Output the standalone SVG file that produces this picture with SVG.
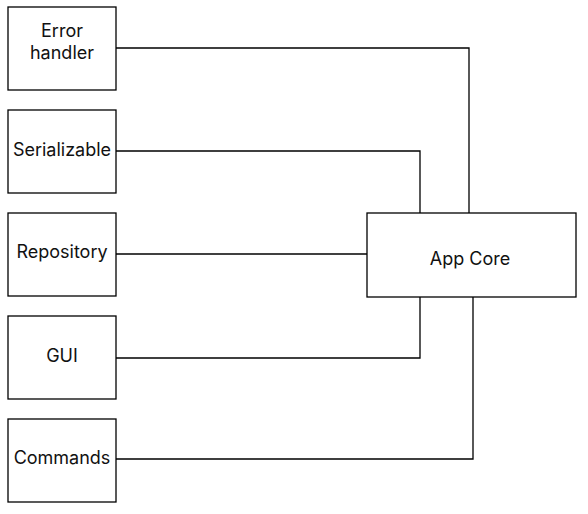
<svg xmlns="http://www.w3.org/2000/svg" width="588" height="514" viewBox="0 0 588 514">
<style>
.box{fill:#fff;stroke:#000;stroke-width:1.3}
.lbl{font-family:Inter,"Liberation Sans",sans-serif;font-size:18px;fill:#111;text-anchor:middle;dominant-baseline:central}
.ln{fill:none;stroke:#000;stroke-width:1.3}
</style>
<rect width="588" height="514" fill="#fff"/>
<g id="connectors">
<polyline class="ln" points="116,48 469,48 469,213"/>
<polyline class="ln" points="116,151 420,151 420,213"/>
<polyline class="ln" points="116,254 367,254"/>
<polyline class="ln" points="116,358 420,358 420,297"/>
<polyline class="ln" points="116,459 473,459 473,297"/>
</g>
<g id="error-handler"><rect class="box" x="8" y="7" width="108" height="83"/><text class="lbl" x="62" y="30">Error</text><text class="lbl" x="62" y="52">handler</text></g>
<g id="serializable"><rect class="box" x="8" y="110" width="108" height="83"/><text class="lbl" x="62" y="149">Serializable</text></g>
<g id="repository"><rect class="box" x="8" y="213" width="108" height="83"/><text class="lbl" x="62" y="251">Repository</text></g>
<g id="gui"><rect class="box" x="8" y="316" width="108" height="83"/><text class="lbl" x="62" y="355">GUI</text></g>
<g id="commands"><rect class="box" x="8" y="419" width="108" height="83"/><text class="lbl" x="62" y="457">Commands</text></g>
<g id="app-core"><rect class="box" x="367" y="213" width="209" height="84"/><text class="lbl" x="470" y="258">App Core</text></g>
</svg>
